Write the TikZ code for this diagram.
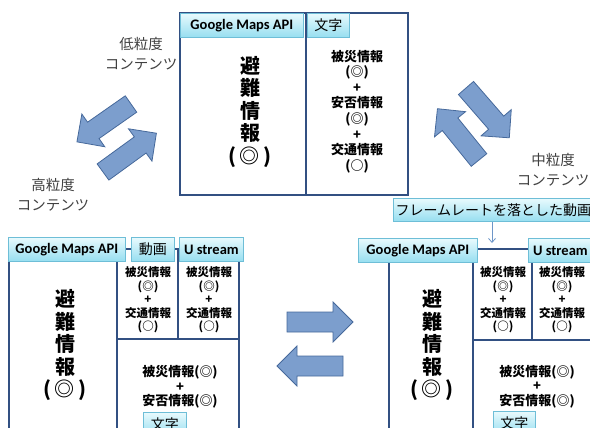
\documentclass[tikz,border=0pt]{standalone}
\usepackage{fontspec}
\setmainfont{Carlito}
\newfontfamily\jp{Noto Sans CJK JP}
\usetikzlibrary{arrows.meta}
\definecolor{frameblue}{RGB}{50,80,130}
\definecolor{arrfill}{RGB}{124,158,205}
\definecolor{arrline}{RGB}{70,105,155}
\definecolor{hdrline}{RGB}{110,190,215}
\definecolor{hdrtop}{RGB}{232,250,253}
\definecolor{hdrbot}{RGB}{150,222,240}
\definecolor{linkblue}{RGB}{110,150,200}
\tikzset{
  panel/.style={draw=frameblue,line width=1.1pt},
  hdr/.style={draw=hdrline,line width=0.8pt,top color=hdrtop,bottom color=hdrbot,
    anchor=north west,inner sep=0pt,minimum height=24,text=black},
  apitxt/.style={font=\bfseries\fontsize{14.5}{16}\selectfont},
  jptxt/.style={font=\jp\fontsize{14}{16}\selectfont},
  bigtxt/.style={align=center,font=\jp\bfseries\fontsize{20}{22.5}\selectfont},
  toptxt/.style={align=center,font=\jp\bfseries\fontsize{13}{15.6}\selectfont},
  celltxt/.style={align=center,font=\jp\bfseries\fontsize{11.5}{13.5}\selectfont},
  lowtxt/.style={align=center,font=\jp\bfseries\fontsize{13}{14.5}\selectfont},
  lbl/.style={align=center,text=black!75,font=\jp\fontsize{14.5}{20}\selectfont},
  linkarrow/.style={draw=linkblue,line width=0.8pt,-{Straight Barb[length=4pt,width=7pt]}},
  blkarrow/.pic={\draw[fill=arrfill,draw=arrline,line width=0.8pt,line join=miter]
    (0,-10) -- (46,-10) -- (46,-20) -- (66,0) -- (46,20) -- (46,10) -- (0,10) -- cycle;}
}
\begin{document}
\begin{tikzpicture}[x=1pt,y=-1pt]
\useasboundingbox (0,0) rectangle (590,428);
\clip (0,0) rectangle (590,428);
% top: low grain
\draw[panel] (180,13) rectangle (408,195);
\draw[panel] (306,13) -- (306,195);
\node[hdr,minimum width=123,apitxt] (apiT) at (180,13) {Google Maps API};
\node[hdr,minimum width=42,jptxt] (moziT) at (307,13) {文字};
\node[bigtxt] (evacT) at (250,112) {避\\難\\情\\報\\(\,◎\,)};
\node[toptxt] (infoT) at (357,111.5) {被災情報\\(◎)\\+\\安否情報\\(◎)\\+\\交通情報\\(○)};
% bottom left: high grain
\draw[panel] (9,249) rectangle (239,440);
\draw[panel] (117,249) -- (117,440);
\draw[panel] (178,249) -- (178,339);
\draw[panel] (117,339) -- (239,339);
\node[hdr,minimum width=117,apitxt] (apiL) at (8,237) {Google Maps API};
\node[hdr,minimum width=43,jptxt] (movL) at (131,237) {動画};
\node[hdr,minimum width=64,apitxt] (ustL) at (179,237) {U stream};
\node[bigtxt] (evacL) at (65,345) {避\\難\\情\\報\\(\,◎\,)};
\node[lowtxt] (lowL) at (180,387) {被災情報(◎)\\+\\安否情報(◎)};
\node[hdr,minimum width=43,jptxt] (moziL) at (143,412) {文字};
% bottom right: middle grain
\draw[panel] (389,249) rectangle (600,440);
\draw[panel] (473,249) -- (473,440);
\draw[panel] (532,249) -- (532,340);
\draw[panel] (473,340) -- (600,340);
\node[hdr,minimum width=119,apitxt] (apiR) at (358,238) {Google Maps API};
\node[hdr,minimum width=64,apitxt] (ustR) at (528,238) {U stream};
\node[hdr,minimum width=200,minimum height=23,jptxt] (frate) at (393,198) {フレームレートを落とした動画};
\coordinate (cellR) at (492,243);
\draw[linkarrow] (frate.south -| cellR) -- (cellR);
\node[bigtxt] (evacR) at (432,345) {避\\難\\情\\報\\(\,◎\,)};
\node[lowtxt] (lowR) at (537,386.5) {被災情報(◎)\\+\\安否情報(◎)};
\node[hdr,minimum width=42,jptxt] (moziR) at (493,411) {文字};
\foreach \nm/\cx in {cellA/148,cellB/209,cellC/503,cellD/562}
  \node[celltxt] (\nm) at (\cx,300) {被災情報\\(◎)\\+\\交通情報\\(○)};
% grain labels
\node[lbl] (lowG) at (141,54) {低粒度\\コンテンツ};
\node[lbl] (highG) at (53,195) {高粒度\\コンテンツ};
\node[lbl] (midG) at (553,170) {中粒度\\コンテンツ};
% block arrows
\pic[rotate=215] at (131,104) {blkarrow};
\pic[rotate=36] at (103,172) {blkarrow};
\pic[rotate=-49] at (466,88) {blkarrow};
\pic[rotate=129] at (479,160) {blkarrow};
\pic at (287,322) {blkarrow};
\pic[rotate=180] at (343,366) {blkarrow};
\end{tikzpicture}
\end{document}
